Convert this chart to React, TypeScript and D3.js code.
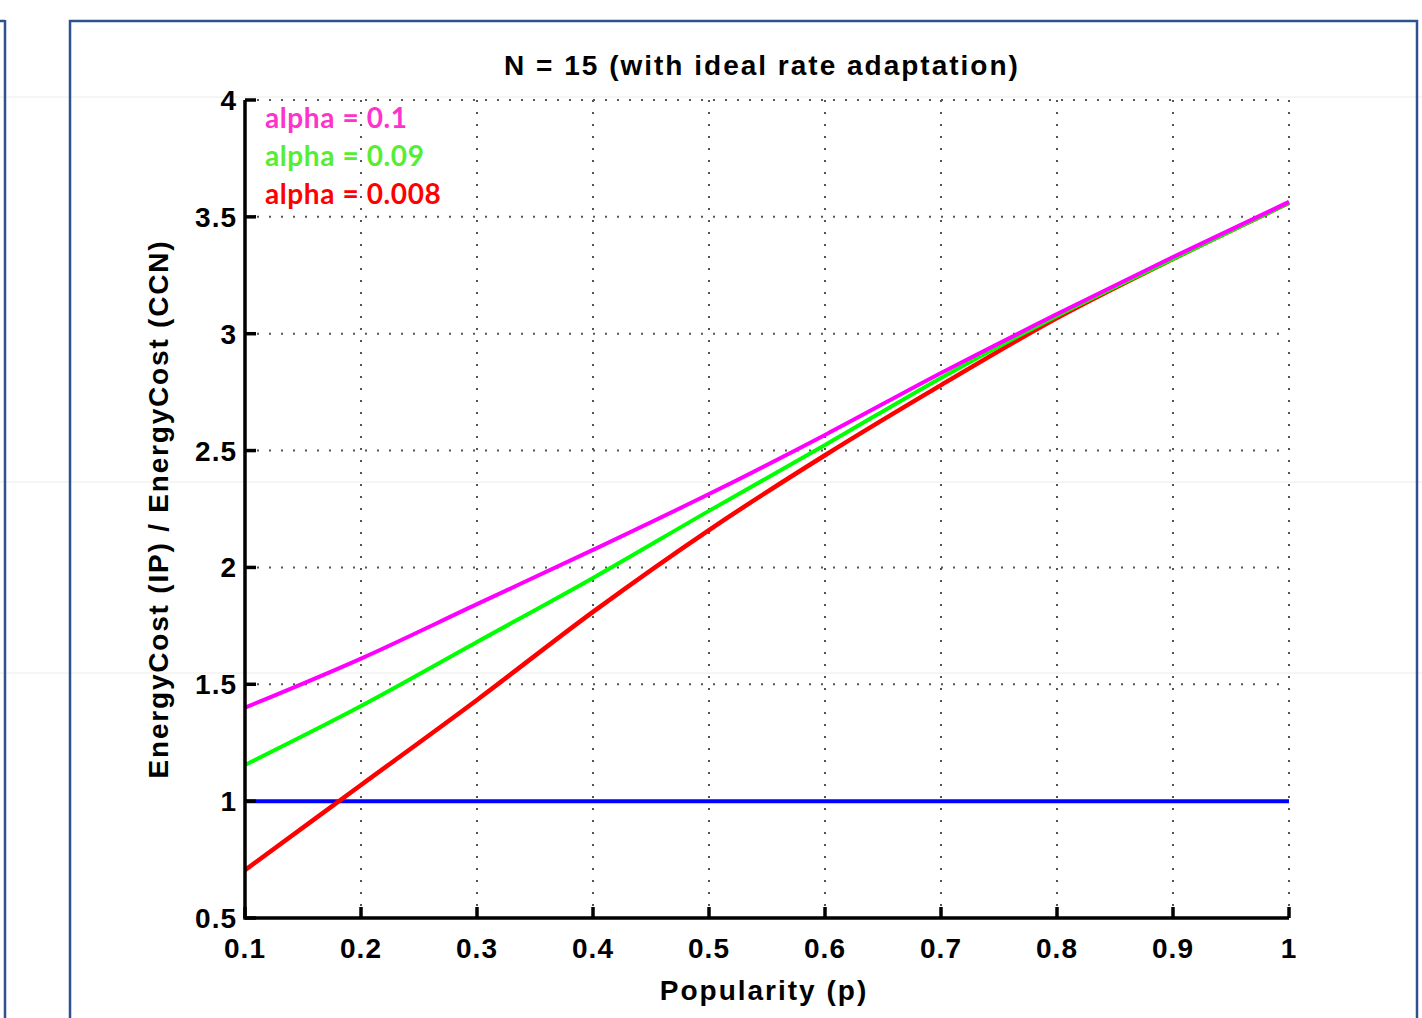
import React, { useEffect, useRef } from "react";
import * as d3 from "d3";

const popularity = [0.1, 0.2, 0.3, 0.4, 0.5, 0.6, 0.7, 0.8, 0.9, 1.0];
const alpha01 = [1.4, 1.61, 1.843, 2.075, 2.314, 2.567, 2.832, 3.084, 3.328, 3.564];
const alpha009 = [1.155, 1.407, 1.681, 1.955, 2.242, 2.524, 2.811, 3.076, 3.32, 3.56];
const alpha0008 = [0.705, 1.069, 1.433, 1.81, 2.16, 2.48, 2.78, 3.067, 3.32, 3.56];
const baseline = [1, 1, 1, 1, 1, 1, 1, 1, 1, 1];

const xTicks = [0.1, 0.2, 0.3, 0.4, 0.5, 0.6, 0.7, 0.8, 0.9, 1];
const yTicks = [0.5, 1, 1.5, 2, 2.5, 3, 3.5, 4];

const legend = [
  { label: "alpha = 0.1", color: "#ff33cc" },
  { label: "alpha = 0.09", color: "#55ee33" },
  { label: "alpha = 0.008", color: "#ff0000" },
];

const series = [
  { values: baseline, color: "#0000ff", width: 4 },
  { values: alpha0008, color: "#ff0000", width: 4.5 },
  { values: alpha009, color: "#00ff00", width: 4 },
  { values: alpha01, color: "#ff00ff", width: 4 },
];

const W = 1422;
const H = 1018;

export default function App() {
  const svgRef = useRef<SVGSVGElement>(null);

  useEffect(() => {
    const svg = d3.select(svgRef.current);
    svg.selectAll("*").remove();

    const x = d3.scaleLinear().domain([0.1, 1]).range([245, 1289]);
    const y = d3.scaleLinear().domain([0.5, 4]).range([918, 100]);

    // faint scan lines
    [97, 482, 673].forEach((yy) => {
      svg.append("line").attr("x1", 0).attr("x2", W).attr("y1", yy).attr("y2", yy)
        .attr("stroke", "#ececE4").attr("stroke-width", 1);
    });

    // frames
    svg.append("line").attr("x1", 5).attr("x2", 5).attr("y1", 20).attr("y2", H)
      .attr("stroke", "#2f528f").attr("stroke-width", 2.5);
    svg.append("line").attr("x1", 0).attr("x2", 5).attr("y1", 21).attr("y2", 21)
      .attr("stroke", "#2f528f").attr("stroke-width", 2.5);
    svg.append("rect").attr("x", 70).attr("y", 21).attr("width", 1347).attr("height", H + 10)
      .attr("fill", "none").attr("stroke", "#2f528f").attr("stroke-width", 2.5);

    const grid = svg.append("g").attr("stroke", "#555").attr("stroke-width", 2)
      .attr("stroke-dasharray", "2,10");
    xTicks.slice(1).forEach((t) => {
      grid.append("line").attr("x1", x(t)).attr("x2", x(t)).attr("y1", y(4)).attr("y2", y(0.5));
    });
    yTicks.slice(1).forEach((t) => {
      grid.append("line").attr("x1", x(0.1)).attr("x2", x(1)).attr("y1", y(t)).attr("y2", y(t));
    });

    const line = d3.line<number>()
      .x((_, i) => x(popularity[i]))
      .y((d) => y(d))
      .curve(d3.curveMonotoneX);

    series.forEach((s) => {
      svg.append("path").attr("d", line(s.values)).attr("fill", "none")
        .attr("stroke", s.color).attr("stroke-width", s.width);
    });

    // axes
    const ax = svg.append("g").attr("stroke", "#000").attr("stroke-width", 3.5).attr("fill", "none");
    ax.append("path").attr("d", `M${x(0.1)},${y(4)}V${y(0.5)}H${x(1)}`);
    xTicks.forEach((t) => {
      ax.append("line").attr("x1", x(t)).attr("x2", x(t)).attr("y1", y(0.5)).attr("y2", y(0.5) - 11);
    });
    yTicks.forEach((t) => {
      ax.append("line").attr("x1", x(0.1)).attr("x2", x(0.1) + 11).attr("y1", y(t)).attr("y2", y(t));
    });

    const font = "'Liberation Sans', Arial, sans-serif";
    xTicks.forEach((t) => {
      svg.append("text").attr("x", x(t)).attr("y", 958).attr("text-anchor", "middle")
        .attr("font-family", font).attr("font-weight", "bold").attr("font-size", 28)
        .attr("letter-spacing", 1)
        .text(d3.format("~g")(t));
    });
    yTicks.forEach((t) => {
      svg.append("text").attr("x", 237).attr("y", y(t) + 10).attr("text-anchor", "end")
        .attr("font-family", font).attr("font-weight", "bold").attr("font-size", 28)
        .attr("letter-spacing", 1)
        .text(d3.format("~g")(t));
    });

    svg.append("text").attr("x", 762).attr("y", 75).attr("text-anchor", "middle")
      .attr("font-family", font).attr("font-weight", "bold").attr("font-size", 28)
      .attr("letter-spacing", 2)
      .text("N = 15 (with ideal rate adaptation)");
    svg.append("text").attr("x", 764).attr("y", 1000).attr("text-anchor", "middle")
      .attr("font-family", font).attr("font-weight", "bold").attr("font-size", 28)
      .attr("letter-spacing", 2)
      .text("Popularity (p)");
    svg.append("text").attr("transform", "translate(168,509) rotate(-90)").attr("text-anchor", "middle")
      .attr("font-family", font).attr("font-weight", "bold").attr("font-size", 28)
      .attr("letter-spacing", 1.8)
      .text("EnergyCost (IP) / EnergyCost (CCN)");

    legend.forEach((l, i) => {
      svg.append("text").attr("x", 265).attr("y", 128 + i * 38)
        .attr("font-family", "Lato, 'Open Sans', sans-serif").attr("font-weight", "bold")
        .attr("font-size", 28).attr("letter-spacing", 0.6).attr("fill", l.color).text(l.label);
    });
  }, []);

  return (
    <svg ref={svgRef} width={W} height={H}
      style={{ position: "absolute", left: 0, top: 0, background: "#fff" }} />
  );
}
